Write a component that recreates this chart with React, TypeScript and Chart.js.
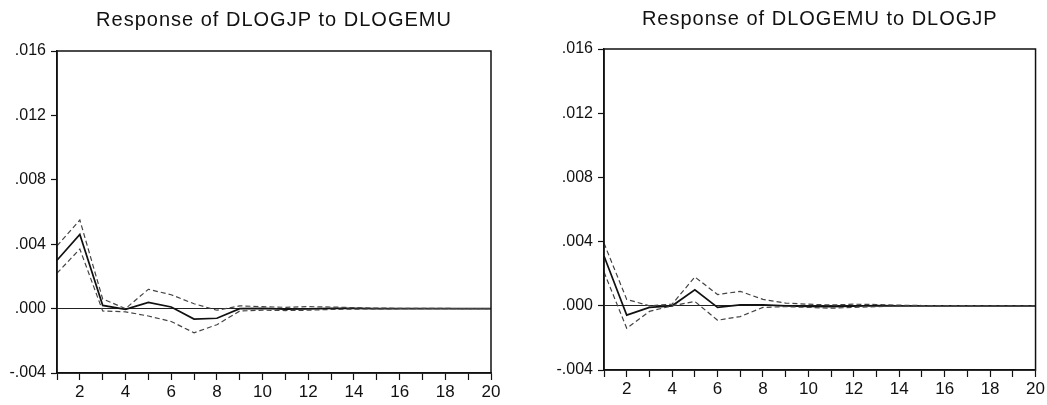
import React, { useEffect, useRef } from "react";
import { Chart, registerables } from "chart.js";
Chart.register(...registerables);

const periods = [1, 2, 3, 4, 5, 6, 7, 8, 9, 10, 11, 12, 13, 14, 15, 16, 17, 18, 19, 20];

const leftTitle = "Response of DLOGJP to DLOGEMU";
const leftResponse = [0.003, 0.0046, 0.0002, -0.00005, 0.00038, 0.0001, -0.00065, -0.0006, 0.0, 0.00002, -0.00003, -0.00002, 0.00001, 0.00001, 0, 0, 0, 0, 0, 0];
const leftUpper = [0.0039, 0.0055, 0.0006, 0.0, 0.0012, 0.00086, 0.0003, -0.0001, 0.00017, 0.00012, 0.00008, 0.00012, 0.0001, 0.00006, 0.00003, 0.00002, 0.00001, 0.00001, 0, 0];
const leftLower = [0.0022, 0.0037, -0.00015, -0.0002, -0.00046, -0.0008, -0.0015, -0.001, -0.00015, -0.0001, -0.00012, -0.0001, -0.00005, -0.00003, -0.00002, -0.00001, -0.00001, 0, 0, 0];

const rightTitle = "Response of DLOGEMU to DLOGJP";
const rightResponse = [0.0031, -0.00058, -0.0001, 0.0, 0.001, -0.0001, 0.00006, 0.00006, 0.0, -0.00003, -0.00005, -0.00002, 0.00001, 0, 0, 0, 0, 0, 0, 0];
const rightUpper = [0.0039, 0.0004, 0.0, 0.0001, 0.0018, 0.0007, 0.0009, 0.0004, 0.00017, 0.0001, 0.00005, 0.0001, 0.00008, 0.00004, 0.00002, 0.00001, 0.00001, 0, 0, 0];
const rightLower = [0.0021, -0.0014, -0.00035, 0.0, 0.00027, -0.0009, -0.00067, -0.0001, -0.00005, -0.0001, -0.00015, -0.0001, -0.00005, -0.00002, -0.00001, 0, 0, 0, 0, 0];

const yMin = -0.004;
const yMax = 0.016;
const yStep = 0.004;

const FONT = "'Liberation Sans', Arial, sans-serif";

function fmtY(v: number): string {
  const s = (Math.round(v * 1000) / 1000).toFixed(3);
  return s.replace(/^0\./, ".").replace(/^-0\./, "-.");
}

type PanelProps = {
  title: string;
  response: number[];
  upper: number[];
  lower: number[];
  width: number;
  left: number;
  yAxisWidth: number;
  padTop: number;
  padRight: number;
  xAxisHeight: number;
  titleY: number;
};

function Panel(p: PanelProps) {
  const ref = useRef<HTMLCanvasElement | null>(null);
  useEffect(() => {
    if (!ref.current) return;
    const framePlugin = {
      id: "frameAndTitle",
      afterDraw(chart: any) {
        const { ctx, chartArea } = chart;
        ctx.save();
        ctx.strokeStyle = "#111";
        ctx.lineWidth = 1.5;
        ctx.strokeRect(chartArea.left, chartArea.top, chartArea.right - chartArea.left, chartArea.bottom - chartArea.top);
        ctx.fillStyle = "#111";
        ctx.font = `20px ${FONT}`;
        (ctx as any).letterSpacing = "1px";
        ctx.textAlign = "center";
        ctx.textBaseline = "middle";
        ctx.fillText(p.title, (chartArea.left + chartArea.right) / 2, p.titleY);
        ctx.restore();
      },
    };
    const chart = new Chart(ref.current, {
      type: "line",
      data: {
        labels: periods,
        datasets: [
          {
            data: p.upper,
            borderColor: "#444",
            borderWidth: 1.2,
            borderDash: [5, 3],
            pointRadius: 0,
            tension: 0,
          },
          {
            data: p.lower,
            borderColor: "#444",
            borderWidth: 1.2,
            borderDash: [5, 3],
            pointRadius: 0,
            tension: 0,
          },
          {
            data: p.response,
            borderColor: "#111",
            borderWidth: 1.7,
            pointRadius: 0,
            tension: 0,
          },
        ],
      },
      options: {
        responsive: false,
        animation: false,
        devicePixelRatio: 1,
        layout: { padding: { top: p.padTop, right: p.padRight, left: 0, bottom: 0 } },
        plugins: { legend: { display: false }, tooltip: { enabled: false }, title: { display: false } },
        scales: {
          x: {
            type: "category",
            offset: false,
            border: { display: true, color: "#111", width: 1.5 },
            grid: { display: true, drawOnChartArea: false, tickLength: 7, tickColor: "#111", tickWidth: 1.2 },
            ticks: {
              autoSkip: false,
              maxRotation: 0,
              padding: 2,
              color: "#111",
              font: { family: FONT, size: 17 },
              callback: (_v: any, i: number) => (periods[i] % 2 === 0 ? String(periods[i]) : ""),
            },
            afterFit: (s: any) => {
              s.height = p.xAxisHeight;
            },
          },
          y: {
            type: "linear",
            min: yMin,
            max: yMax,
            border: { display: true, color: "#111", width: 1.5 },
            grid: {
              display: true,
              drawOnChartArea: true,
              tickLength: 6,
              tickColor: "#111",
              tickWidth: 1.2,
              lineWidth: 1,
              color: (c: any) => (c.tick && Math.abs(c.tick.value) < 1e-9 ? "#222" : "rgba(0,0,0,0)"),
            },
            ticks: {
              stepSize: yStep,
              padding: 5,
              color: "#111",
              font: { family: FONT, size: 16 },
              callback: (v: any) => fmtY(Number(v)),
            },
            afterFit: (s: any) => {
              s.width = p.yAxisWidth;
            },
          },
        },
      },
      plugins: [framePlugin],
    });
    return () => chart.destroy();
  }, []);
  return (
    <canvas
      ref={ref}
      width={p.width}
      height={405}
      style={{ position: "absolute", left: p.left, top: 0, width: p.width, height: 405 }}
    />
  );
}

export default function App() {
  return (
    <div style={{ position: "fixed", left: 0, top: 0, width: 1047, height: 405, background: "#fff", overflow: "hidden" }}>
      <Panel
        title={leftTitle}
        response={leftResponse}
        upper={leftUpper}
        lower={leftLower}
        width={520}
        left={0}
        yAxisWidth={57}
        padTop={51}
        padRight={29}
        xAxisHeight={32}
        titleY={20}
      />
      <Panel
        title={rightTitle}
        response={rightResponse}
        upper={rightUpper}
        lower={rightLower}
        width={527}
        left={520}
        yAxisWidth={84}
        padTop={49}
        padRight={10}
        xAxisHeight={35}
        titleY={19}
      />
    </div>
  );
}
